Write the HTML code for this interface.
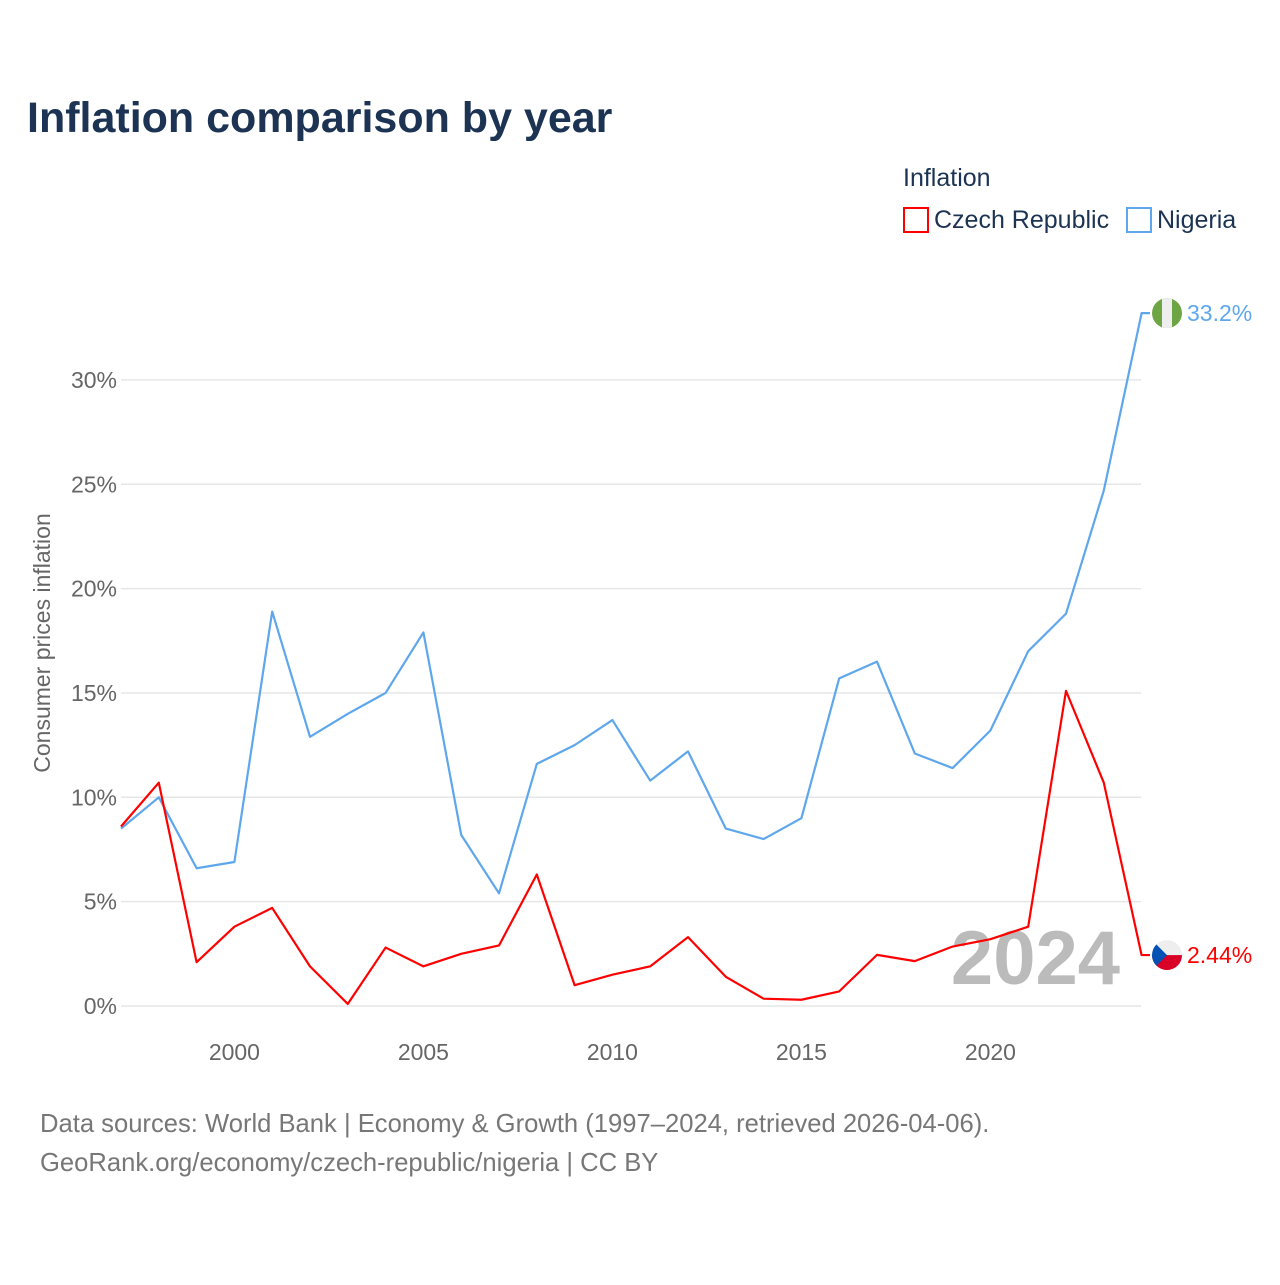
<!DOCTYPE html>
<html><head><meta charset="utf-8"><style>
body{margin:0;background:#fff;font-family:"Liberation Sans",sans-serif}
svg text{font-family:"Liberation Sans",sans-serif}
</style></head><body>
<svg width="1280" height="1280" viewBox="0 0 1280 1280" xmlns="http://www.w3.org/2000/svg">
<text x="27" y="132" font-size="43" font-weight="bold" fill="#1c3353">Inflation comparison by year</text>
<text x="903" y="186" font-size="25" fill="#1c3353">Inflation</text>
<g><rect x="904" y="208" width="24" height="24" fill="none" stroke="#f00" stroke-width="2"/><text x="934" y="228" font-size="25" fill="#1c3353">Czech Republic</text></g>
<g><rect x="1127" y="208" width="24" height="24" fill="none" stroke="#5ea7ec" stroke-width="2"/><text x="1157" y="228" font-size="25" fill="#1c3353">Nigeria</text></g>
<text transform="translate(50,643) rotate(-90)" text-anchor="middle" font-size="23" fill="#666">Consumer prices inflation</text>
<g id="grid"></g><g id="yt"></g><g id="xt"></g>
<text x="1120" y="984" text-anchor="end" font-size="76" font-weight="bold" fill="#bbb">2024</text>
<g id="lines"></g>
<text x="40" y="1132" font-size="25.6" fill="#777">Data sources: World Bank | Economy &amp; Growth (1997–2024, retrieved 2026-04-06).</text>
<text x="40" y="1171" font-size="25.6" fill="#777">GeoRank.org/economy/czech-republic/nigeria | CC BY</text>
</svg>
<script>
const years=[1997,1998,1999,2000,2001,2002,2003,2004,2005,2006,2007,2008,2009,2010,2011,2012,2013,2014,2015,2016,2017,2018,2019,2020,2021,2022,2023,2024];
const nigeria=[8.5,10.0,6.6,6.9,18.9,12.9,14.0,15.0,17.9,8.2,5.4,11.6,12.5,13.7,10.8,12.2,8.5,8.0,9.0,15.7,16.5,12.1,11.4,13.2,17.0,18.8,24.7,33.2];
const czech=[8.6,10.7,2.1,3.8,4.7,1.9,0.1,2.8,1.9,2.5,2.9,6.3,1.0,1.5,1.9,3.3,1.4,0.35,0.3,0.7,2.45,2.15,2.85,3.2,3.8,15.1,10.7,2.44];
const yTicks=[0,5,10,15,20,25,30];
const xTicks=[2000,2005,2010,2015,2020];
const NS="http://www.w3.org/2000/svg";
const X=y=>121+(y-1997)*37.8, Y=v=>1006-v*20.87;
function mk(t,a,p){const e=document.createElementNS(NS,t);for(const k in a)e.setAttribute(k,a[k]);p.appendChild(e);return e;}
const g=document.getElementById('grid'),yt=document.getElementById('yt'),xt=document.getElementById('xt'),L=document.getElementById('lines');
yTicks.forEach(v=>{const l=mk('line',{x1:121,x2:1141,y1:Y(v),y2:Y(v),stroke:'#e6e6e6','stroke-width':1.5},g);


const t=mk('text',{x:117,y:Y(v)+8,'text-anchor':'end','font-size':23,fill:'#666'},yt);t.textContent=v+'%';

});
xTicks.forEach(v=>{const t=mk('text',{x:X(v),y:1060,'text-anchor':'middle','font-size':23,fill:'#666'},xt);t.textContent=v;

});
function series(d,c,name){const pts=d.map((v,i)=>X(years[i])+','+Y(v));const ly=Y(d[d.length-1]);pts.push('1150,'+ly);
const p=mk('polyline',{points:pts.join(' '),fill:'none',stroke:c,'stroke-width':2.2,'stroke-linejoin':'round'},L);


const t=mk('text',{x:1187,y:ly+8,'font-size':23,fill:c},L);t.textContent=(name=='nigeria'?d[d.length-1].toFixed(1):d[d.length-1].toFixed(2))+'%';

return ly;}
const ny=series(nigeria,'#5ea7ec','nigeria');const cy=series(czech,'#f00','czech');
const fn=mk('g',{},L);


const cn=mk('clipPath',{id:'cn'},fn);mk('circle',{cx:1167,cy:ny,r:15},cn);
const gn=mk('g',{'clip-path':'url(#cn)'},fn);
mk('rect',{x:1152,y:ny-15,width:30,height:30,fill:'#6da544'},gn);mk('rect',{x:1162,y:ny-15,width:10,height:30,fill:'#eee'},gn);
const fc=mk('g',{},L);


const cc=mk('clipPath',{id:'cc'},fc);mk('circle',{cx:1167,cy:cy,r:15},cc);
const gc=mk('g',{'clip-path':'url(#cc)'},fc);
mk('rect',{x:1152,y:cy-15,width:30,height:15,fill:'#eee'},gc);mk('rect',{x:1152,y:cy,width:30,height:15,fill:'#d80027'},gc);
mk('polygon',{points:`1152,${cy-15} 1167,${cy} 1152,${cy+15}`,fill:'#0052b4'},gc);
</script>
</body></html>
